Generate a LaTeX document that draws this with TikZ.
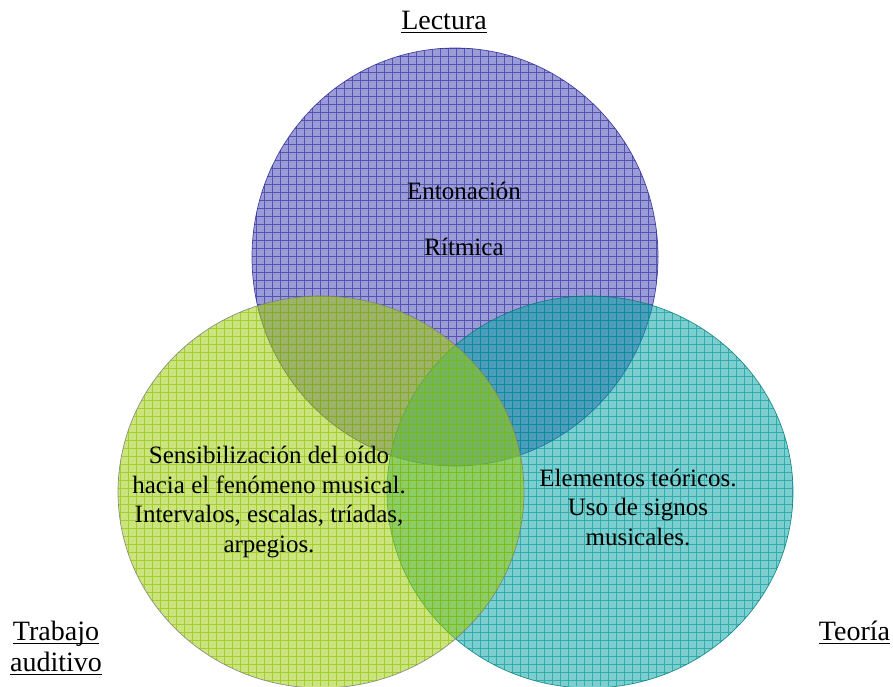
\documentclass[tikz,border=0pt]{standalone}
\usepackage{fontspec}
\setmainfont{Liberation Serif}
\definecolor{pfill}{RGB}{63,63,178}
\definecolor{pgrid}{RGB}{35,35,150}
\definecolor{gfill}{RGB}{158,203,5}
\definecolor{ggrid}{RGB}{135,192,0}
\definecolor{tfill}{RGB}{5,163,163}
\definecolor{tgrid}{RGB}{0,150,150}
\definecolor{edgegray}{RGB}{120,120,120}
\newcommand\undl[1]{\setbox0\hbox{#1}\rlap{\rule[-4pt]{\wd0}{1.2pt}}\box0}
\tikzset{
  cellfill/.style={fill opacity=0.52},
  gridlines/.style={line width=0.65pt, draw opacity=0.6},
  rim/.style={draw=edgegray, line width=0.7pt, draw opacity=0.8},
  body/.style={font=\fontsize{25}{29.5}\selectfont, align=center, text=black},
  label/.style={font=\fontsize{28}{31}\selectfont, align=center, text=black}
}
\begin{document}
\begin{tikzpicture}[x=1pt,y=-1pt]
\useasboundingbox (0,0) rectangle (893,686);
% Lectura circle
\fill[pfill, cellfill] (455,257) ellipse [x radius=203pt, y radius=209pt];
\begin{scope}
  \clip (455,257) ellipse [x radius=203pt, y radius=209pt];
  \draw[gridlines, pgrid, step=8pt] (0,686) grid (893,0);
\end{scope}
\draw[rim, draw=pgrid] (455,257) ellipse [x radius=203pt, y radius=209pt];
% Teoria circle
\fill[tfill, cellfill] (590,492) ellipse [x radius=203pt, y radius=196pt];
\begin{scope}
  \clip (590,492) ellipse [x radius=203pt, y radius=196pt];
  \draw[gridlines, tgrid, step=8pt] (0,686) grid (893,0);
\end{scope}
\draw[rim, draw=tgrid!80!black] (590,492) ellipse [x radius=203pt, y radius=196pt];
% Trabajo auditivo circle
\fill[gfill, cellfill] (321,492) ellipse [x radius=203pt, y radius=196pt];
\begin{scope}
  \clip (321,492) ellipse [x radius=203pt, y radius=196pt];
  \draw[gridlines, ggrid, step=8pt] (0,686) grid (893,0);
\end{scope}
\draw[rim] (321,492) ellipse [x radius=203pt, y radius=196pt];

\node[body] (ent) at (464,219) {Entonación\\[27pt]Rítmica};
\node[body] (sens) at (269,502) {Sensibilización del oído\\hacia el fenómeno musical.\\Intervalos, escalas, tríadas,\\arpegios.};
\node[body] (elem) at (638,507) {Elementos teóricos.\\Uso de signos\\musicales.};

\node[label, anchor=base] (lect) at (444,29) {\undl{Lectura}};
\node[label] (trab) at (56,648) {\undl{Trabajo}\\\undl{auditivo}};
\node[label, anchor=base] (teor) at (854.5,640) {\undl{Teoría}};
\end{tikzpicture}
\end{document}
